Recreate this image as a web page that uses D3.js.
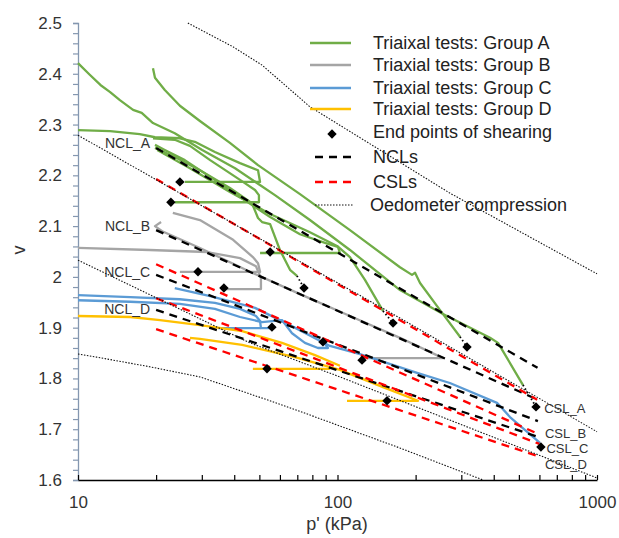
<!DOCTYPE html>
<html>
<head>
<meta charset="utf-8">
<script src="https://cdn.jsdelivr.net/npm/d3@7"></script>
<style>
  body { margin: 0; background: #fff; }
  svg text { font-family: Arial, "Liberation Sans", sans-serif; fill: #333; }
</style>
</head>
<body>
<svg id="chart" width="619" height="538"></svg>
<script>
// all points are [p' (kPa), v]
var nclNames = ["NCL_A", "NCL_B", "NCL_C", "NCL_D"];
var nclLines = [
  [[20, 2.254], [590, 1.821]],
  [[20, 2.092], [592, 1.758]],
  [[20, 2.004], [592, 1.716]],
  [[20, 1.935], [592, 1.685]]
];
var cslNames = ["CSL_A", "CSL_B", "CSL_C", "CSL_D"];
var cslLines = [
  [[20, 2.193], [588, 1.758]],
  [[20, 2.025], [592, 1.691]],
  [[20, 1.958], [600, 1.671]],
  [[20, 1.897], [592, 1.647]]
];
var oedometer = [
  [[26.5, 2.5], [39.6, 2.453], [51.2, 2.417], [78.3, 2.335], [271, 2.165], [1000, 2.006]],
  [[10, 2.279], [78.3, 2.019], [174, 1.919], [1000, 1.695]],
  [[10, 2.033], [46, 1.870], [102.2, 1.803], [271, 1.718], [1000, 1.604]],
  [[10, 1.848], [11.8, 1.842], [18.9, 1.823], [29.5, 1.803], [53.5, 1.758], [78.3, 1.728], [174, 1.663], [364, 1.6]]
];

var groupA = [
  [[10, 2.421], [11.1, 2.398], [12.2, 2.378], [13.3, 2.364], [14.5, 2.348], [16.3, 2.329], [17.6, 2.323], [19.45, 2.303],
   [23.6, 2.283], [30.1, 2.250], [40.3, 2.214], [57.4, 2.161], [78.3, 2.112], [111.7, 2.053], [174.1, 1.974],
   [255, 1.927], [387, 1.880], [415.5, 1.870], [518.6, 1.787]],
  [[19.45, 2.411], [19.8, 2.392], [21.6, 2.368], [24.7, 2.337], [29.5, 2.307], [38.5, 2.264], [49.4, 2.220],
   [71.7, 2.163], [111.7, 2.092], [174.1, 2.019], [193.7, 2.004], [199, 2.008], [208, 1.988], [248, 1.935], [296.5, 1.882]],
  [[10, 2.289], [13.3, 2.287], [17.3, 2.281], [19.8, 2.275], [24.7, 2.273], [28.2, 2.266], [33.7, 2.246],
   [42.1, 2.224], [49.4, 2.210], [50.3, 2.187], [25.8, 2.187]],
  [[19.45, 2.273], [23.6, 2.270], [27.0, 2.258], [32.3, 2.230], [42.1, 2.191], [48.1, 2.171], [49.8, 2.161],
   [49.8, 2.147], [23.6, 2.147]],
  [[19.8, 2.260], [21.6, 2.250], [25.8, 2.230], [32.3, 2.197], [42.1, 2.157], [55.0, 2.118], [71.7, 2.084],
   [89.5, 2.067], [100.4, 2.059], [102.2, 2.047], [50.3, 2.047]],
  [[19.8, 2.254], [23.6, 2.236], [29.5, 2.210], [38.5, 2.175], [46.8, 2.145], [49.4, 2.116], [51.2, 2.108],
   [55.0, 2.104], [60.0, 2.053], [65.6, 2.014], [69.8, 2.002]],
  [[20.2, 2.250], [27.0, 2.214], [38.5, 2.167], [55.0, 2.124], [78.3, 2.088], [99.6, 2.061], [111.7, 2.039],
   [127.6, 1.994], [149.7, 1.933]]
];
var groupB = [
  [[20.9, 2.108], [19.8, 2.100], [21.1, 2.090], [29.5, 2.057], [46.0, 2.010], [71.7, 1.966], [111.7, 1.923],
   [174.1, 1.880], [255, 1.840], [124.3, 1.840]],
  [[23.2, 2.126], [29.5, 2.112], [39.6, 2.073], [47.2, 2.039], [49.4, 2.027], [50.3, 2.010], [24.7, 2.010]],
  [[10, 2.057], [18.9, 2.053], [31.4, 2.049], [42.1, 2.037], [48.5, 2.021], [50.7, 1.998], [50.7, 1.976], [36.5, 1.976]]
];
var groupC = [
  [[10, 1.964], [15.9, 1.960], [24.7, 1.956], [33.7, 1.949], [42.1, 1.937], [48.5, 1.923], [50.3, 1.913],
   [50.7, 1.899], [55.9, 1.899]],
  [[34.6, 1.899], [50.7, 1.899]],
  [[10, 1.954], [15.9, 1.951], [24.7, 1.947], [33.7, 1.937], [42.1, 1.921], [51.2, 1.911], [61.1, 1.915],
   [66.8, 1.889], [74.9, 1.870], [84.1, 1.860], [91.9, 1.860], [89.5, 1.868]],
  [[23.6, 1.978], [32.3, 1.962], [48.1, 1.939], [65.6, 1.905], [93.5, 1.864], [122.1, 1.848], [202.6, 1.811],
   [271, 1.791], [411.8, 1.752], [462, 1.724], [566.6, 1.685], [603, 1.673]]
];
var groupD = [
  [[10, 1.923], [15.9, 1.921], [20.7, 1.915], [29.5, 1.905], [42.9, 1.893], [61.1, 1.870], [81.9, 1.846], [102.2, 1.825]],
  [[27.0, 1.880], [29.5, 1.878], [42.9, 1.866], [68.6, 1.842], [102.2, 1.817], [149.7, 1.783], [204.3, 1.756], [108.8, 1.756]],
  [[93.5, 1.819], [47.2, 1.819]]
];
var endPoints = [
  [24.7, 2.187], [22.8, 2.147], [29.0, 2.010], [36.5, 1.978], [55.0, 2.049], [74.3, 1.978], [55.9, 1.901],
  [87.9, 1.872], [124.3, 1.836], [53.5, 1.819], [163.7, 1.909], [315.5, 1.862], [155.2, 1.756], [582, 1.744], [608, 1.665]
];
// short dotted ties between the last recorded point and the end point
var endTies = [
  [[69.8, 2.002], [74.3, 1.978]],
  [[149.7, 1.933], [163.7, 1.909]],
  [[296.5, 1.882], [315.5, 1.862]],
  [[518.6, 1.787], [582, 1.744]]
];
var yTicks = d3.range(0, 46).map(function(i) { return +(1.6 + i * 0.02).toFixed(2); });
var xTicks = [10, 20, 30, 40, 50, 60, 70, 80, 90, 100, 200, 300, 400, 500, 600, 700, 800, 900, 1000];
var legendLabels = ["Triaixal tests: Group A", "Triaxial tests: Group B", "Triaxial tests: Group C",
  "Triaxial tests: Group D", "End points of shearing", "NCLs", "CSLs", "Oedometer compression"];

var colors = { A: "#70ad47", B: "#a5a5a5", C: "#5b9bd5", D: "#ffc000" };

var svg = d3.select("#chart");
var x = d3.scaleLog().domain([10, 1000]).range([78, 597]);
var y = d3.scaleLinear().domain([1.6, 2.5]).range([480, 23]);

var line = d3.line()
  .x(function(d) { return x(d[0]); })
  .y(function(d) { return y(d[1]); });

// axes
var yAxis = svg.append("g")
  .attr("transform", "translate(78,0)")
  .call(d3.axisLeft(y).tickValues(yTicks).tickSize(5).tickPadding(11)
    .tickFormat(function(d) { return Math.round(d * 100) % 10 === 0 ? String(+d.toFixed(1)) : ""; }));
yAxis.select(".domain").attr("stroke", "#8497b0").attr("stroke-width", 1.3);
yAxis.selectAll(".tick line").attr("stroke", "#8497b0").attr("stroke-width", 1.2);
yAxis.selectAll("text").attr("font-size", 17).style("fill", "#333");

var xAxis = svg.append("g")
  .attr("transform", "translate(0,480)")
  .call(d3.axisBottom(x).tickValues(xTicks).tickSizeInner(-5).tickSizeOuter(0).tickPadding(16)
    .tickFormat(function(d) { return [10, 100, 1000].indexOf(d) >= 0 ? d : ""; }));
xAxis.select(".domain").attr("stroke", "#000").attr("stroke-width", 1.5);
xAxis.selectAll(".tick line").attr("stroke", "#000").attr("stroke-width", 1.2);
xAxis.selectAll("text").attr("font-size", 17).style("fill", "#333");

svg.append("text").attr("x", 337).attr("y", 530).attr("text-anchor", "middle")
  .attr("font-size", 18).text("p' (kPa)");
svg.append("text").attr("transform", "translate(25,250) rotate(-90)").attr("text-anchor", "middle")
  .attr("font-size", 18).text("v");

var plot = svg.append("g");

// triaxial test paths
[["B", groupB], ["C", groupC], ["D", groupD], ["A", groupA]].forEach(function(g) {
  plot.selectAll(null).data(g[1]).enter().append("path")
    .attr("d", line)
    .attr("fill", "none")
    .attr("stroke", colors[g[0]])
    .attr("stroke-width", 2.3)
    .attr("stroke-linejoin", "round");
});

// NCLs and CSLs
plot.selectAll(".ncl").data(nclLines).enter().append("path")
  .attr("class", "ncl").attr("d", line).attr("fill", "none")
  .attr("stroke", "#000").attr("stroke-width", 2.3).attr("stroke-dasharray", "8,6");
plot.selectAll(".csl").data(cslLines).enter().append("path")
  .attr("class", "csl").attr("d", line).attr("fill", "none")
  .attr("stroke", "#ff0000").attr("stroke-width", 2.3).attr("stroke-dasharray", "8,6");

// oedometer compression
plot.selectAll(".oed").data(oedometer).enter().append("path")
  .attr("class", "oed").attr("d", line).attr("fill", "none")
  .attr("stroke", "#111").attr("stroke-width", 1.1).attr("stroke-dasharray", "1.5,1.5");

plot.selectAll(".tie").data(endTies).enter().append("path")
  .attr("class", "tie").attr("d", line).attr("fill", "none")
  .attr("stroke", "#000").attr("stroke-width", 1.8).attr("stroke-dasharray", "1.5,2.5");

// end points
var diamond = d3.symbol().type(d3.symbolSquare).size(44);
plot.selectAll(".end").data(endPoints).enter().append("path")
  .attr("class", "end").attr("d", diamond)
  .attr("transform", function(d) { return "translate(" + x(d[0]) + "," + y(d[1]) + ") rotate(45)"; })
  .attr("fill", "#000");

// line labels
var nclDy = [0, 1, 2, 4];
svg.selectAll(".ncl-lab").data(nclLines).enter().append("text")
  .attr("x", function(d) { return x(d[0][0]) - 6; })
  .attr("y", function(d, i) { return y(d[0][1]) + nclDy[i]; })
  .attr("text-anchor", "end").attr("font-size", 14)
  .text(function(d, i) { return nclNames[i]; });
var cslDy = [13, 4, 9, 13];
svg.selectAll(".csl-lab").data(cslLines).enter().append("text")
  .attr("x", function(d) { return x(d[1][0]) + 7; })
  .attr("y", function(d, i) { return y(d[1][1]) + cslDy[i]; })
  .attr("font-size", 13)
  .text(function(d, i) { return cslNames[i]; });

// legend
var legendY = [43, 65, 88, 109, 132, 157, 182, 205];
var legend = svg.append("g");
legendLabels.forEach(function(label, i) {
  var ly = legendY[i];
  if (i < 4) {
    legend.append("line").attr("x1", 310).attr("x2", 351).attr("y1", ly).attr("y2", ly)
      .attr("stroke", colors["ABCD"[i]]).attr("stroke-width", 2.3);
  } else if (i === 4) {
    legend.append("path").attr("d", diamond).attr("transform", "translate(332," + (ly + 2) + ") rotate(45)");
  } else {
    legend.append("line").attr("x1", 315).attr("x2", 353).attr("y1", ly).attr("y2", ly)
      .attr("stroke", i === 5 ? "#000" : i === 6 ? "#ff0000" : "#111")
      .attr("stroke-width", i === 7 ? 1.2 : 2.3)
      .attr("stroke-dasharray", i === 7 ? "1.5,1.5" : "8,6");
  }
  legend.append("text").attr("x", i === 7 ? 370 : 373).attr("y", ly).attr("dy", "0.35em")
    .attr("font-size", 18).style("fill", "#222").text(label);
});
</script>
</body>
</html>
